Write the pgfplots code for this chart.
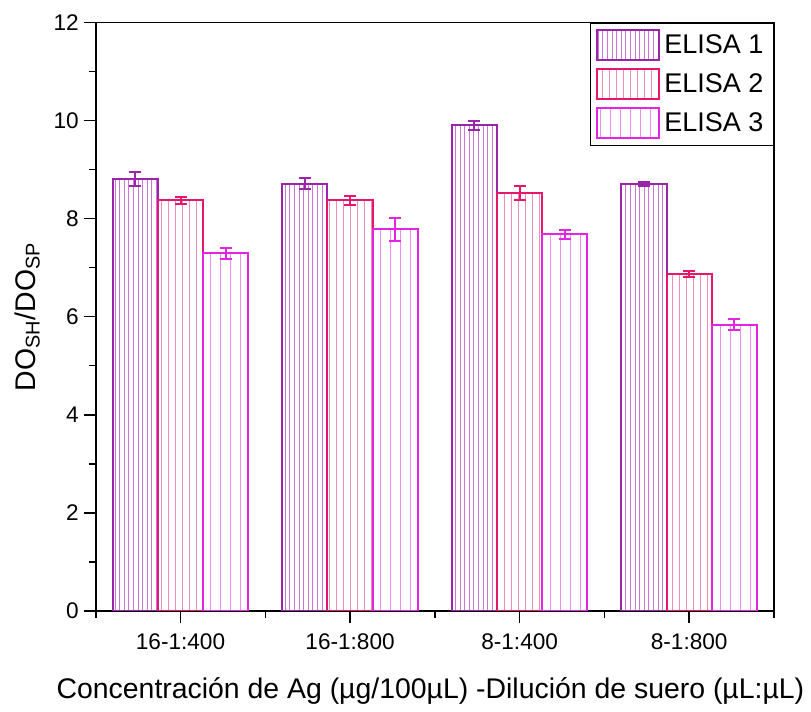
\documentclass[border=0pt]{standalone}
\usepackage{fontspec}
\setmainfont{Liberation Sans}
\usepackage{pgfplots}
\pgfplotsset{compat=1.18}
\usetikzlibrary{patterns.meta}

\definecolor{elisaA}{HTML}{9A24AA}
\definecolor{elisaAl}{HTML}{C678D2}
\definecolor{elisaB}{HTML}{E5166C}
\definecolor{elisaBl}{HTML}{F28AB4}
\definecolor{elisaC}{HTML}{E424E4}
\definecolor{elisaCl}{HTML}{F08CF0}

\begin{document}
\begin{tikzpicture}
\begin{axis}[
    scale only axis,
    width=339pt,
    height=294pt,
    ybar=0pt,
    bar width=0.2667,
    xmin=-0.5, xmax=3.5,
    ymin=0, ymax=12,
    xtick={0,1,2,3},
    xticklabels={16-1:400, 16-1:800, 8-1:400, 8-1:800},
    minor xtick={-0.5,0.5,1.5,2.5,3.5},
    ytick={0,2,4,6,8,10,12},
    minor ytick={1,3,5,7,9,11},
    xtick pos=bottom,
    ytick pos=left,
    tick align=outside,
    major tick length=6pt,
    minor tick length=3.5pt,
    tick style={black, line width=0.8pt},
    axis line style={line width=0.8pt},
    /pgf/number format/assume math mode=true,
    tick label style={font=\fontsize{11.3}{13}\selectfont},
    xticklabel style={yshift=-2pt},
    yticklabel style={xshift=1pt},
    label style={font=\fontsize{14.2}{16}\selectfont},
    xlabel={Concentración de Ag (µg/100µL) -Dilución de suero (µL:µL)},
    ylabel={DO\textsubscript{SH}/DO\textsubscript{SP}},
    xlabel style={yshift=-7pt, xshift=-2.2pt},
    ylabel style={yshift=0pt},
    legend style={at={(1,1)}, anchor=north east, draw=black, line width=0.6pt,
        font=\fontsize{13.5}{15}\selectfont, row sep=3.5pt, inner xsep=3pt, inner ysep=3pt,
        cells={anchor=west}},
    legend image code/.code={\draw[#1] (0pt,-7.5pt) rectangle (31pt,7.5pt);},
    error bars/y dir=both,
    error bars/y explicit,
]

% ELISA 1
\addplot[draw=elisaA, line width=1pt, pattern={Lines[angle=90,distance=2.3pt,line width=0.5pt]}, pattern color=elisaAl,
    error bars/error bar style={color=elisaA, line width=1pt},
    error bars/error mark options={rotate=90, mark size=3pt, color=elisaA, line width=1pt}]
coordinates {
    (0,8.81) +- (0,0.14)
    (1,8.71) +- (0,0.11)
    (2,9.90) +- (0,0.09)
    (3,8.71) +- (0,0.04)
};

% ELISA 2
\addplot[draw=elisaB, line width=1pt, pattern={Lines[angle=90,distance=3.5pt,line width=0.5pt]}, pattern color=elisaBl,
    error bars/error bar style={color=elisaB, line width=1pt},
    error bars/error mark options={rotate=90, mark size=3pt, color=elisaB, line width=1pt}]
coordinates {
    (0,8.37) +- (0,0.08)
    (1,8.37) +- (0,0.1)
    (2,8.53) +- (0,0.14)
    (3,6.87) +- (0,0.07)
};

% ELISA 3
\addplot[draw=elisaC, line width=1pt, pattern={Lines[angle=90,distance=5pt,line width=0.5pt]}, pattern color=elisaCl,
    error bars/error bar style={color=elisaC, line width=1pt},
    error bars/error mark options={rotate=90, mark size=3pt, color=elisaC, line width=1pt}]
coordinates {
    (0,7.29) +- (0,0.12)
    (1,7.78) +- (0,0.23)
    (2,7.68) +- (0,0.09)
    (3,5.84) +- (0,0.11)
};

\legend{ELISA 1, ELISA 2, ELISA 3}

\end{axis}
% a little white margin round the picture, as in the reference
\path (current bounding box.south west) ++(-4pt,0pt);
\path (current bounding box.north east) ++(0pt,4pt);
\end{tikzpicture}
\end{document}
